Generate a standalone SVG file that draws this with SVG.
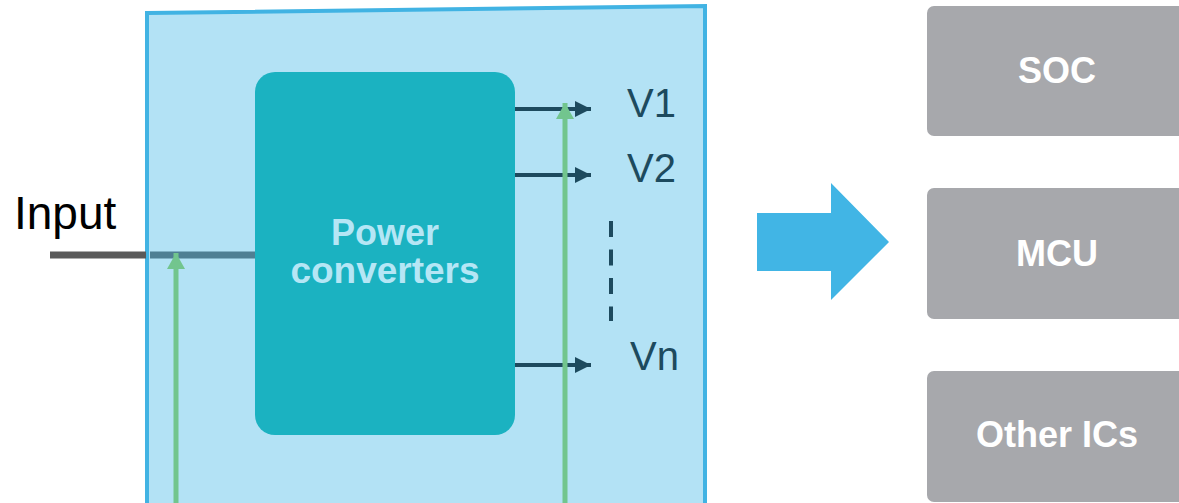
<svg xmlns="http://www.w3.org/2000/svg" width="1179" height="503" viewBox="0 0 1179 503">
<style>
.lbl{font-family:"Liberation Sans",Arial,sans-serif;fill:#1d4a5e;font-size:40px}
.chip{fill:#a7a8ac}
.chipt{font-family:"Liberation Sans",Arial,sans-serif;font-weight:bold;font-size:36px;fill:#ffffff;text-anchor:middle}
.out{stroke:#1d4a5e;stroke-width:4;fill:none}
.grn{stroke:#72c58e;stroke-width:5;fill:none}
</style>
<defs>
<marker id="ah" markerUnits="userSpaceOnUse" markerWidth="16" markerHeight="16" refX="16" refY="8" orient="auto"><path d="M0,0 L16,8 L0,16 Z" fill="#1d4a5e"/></marker>
<marker id="gh" markerUnits="userSpaceOnUse" markerWidth="16" markerHeight="18" refX="16" refY="9" orient="auto"><path d="M0,0 L16,9 L0,18 Z" fill="#72c58e"/></marker>
</defs>
<g id="panel">
<polygon points="147,13 705,6 705,510 147,510" fill="#b3e2f5" stroke="#41b3e3" stroke-width="4"/>
</g>
<g id="input">
<text x="14" y="229" font-family="'Liberation Sans',Arial,sans-serif" font-size="46" fill="#000">Input</text>
</g>
<g id="connectors">
<line x1="50" y1="255" x2="146" y2="255" stroke="#5a5a5a" stroke-width="7"/>
<line x1="150" y1="255" x2="256" y2="255" stroke="#4f7f93" stroke-width="7"/>
<line class="out" x1="515" y1="109" x2="591" y2="109" marker-end="url(#ah)"/>
<line class="out" x1="515" y1="175" x2="591" y2="175" marker-end="url(#ah)"/>
<line class="out" x1="515" y1="365" x2="591" y2="365" marker-end="url(#ah)"/>
<line class="out" x1="611" y1="221" x2="611" y2="321" stroke-dasharray="16,12.5"/>
<line class="grn" x1="176" y1="510" x2="176" y2="253" marker-end="url(#gh)"/>
<line class="grn" x1="565" y1="510" x2="565" y2="103" marker-end="url(#gh)"/>
</g>
<g id="power">
<rect x="255" y="72" width="260" height="363" rx="20" fill="#1bb2c1"/>
<text x="385" y="245" font-family="'Liberation Sans',Arial,sans-serif" font-weight="bold" font-size="36" fill="#b5e6f5" text-anchor="middle">Power</text>
<text x="385" y="283" font-family="'Liberation Sans',Arial,sans-serif" font-weight="bold" font-size="37" fill="#b5e6f5" text-anchor="middle">converters</text>
</g>
<g id="labels">
<text class="lbl" x="627" y="117">V1</text>
<text class="lbl" x="627" y="182">V2</text>
<text class="lbl" x="630" y="370">Vn</text>
</g>
<g id="bigarrow">
<polygon points="757,213 831,213 831,183 889,242 831,300 831,271 757,271" fill="#41b5e5"/>
</g>
<g id="soc">
<rect class="chip" x="927" y="6" width="270" height="130" rx="7"/>
<text class="chipt" x="1057" y="83">SOC</text>
</g>
<g id="mcu">
<rect class="chip" x="927" y="188" width="270" height="131" rx="7"/>
<text class="chipt" x="1057" y="266">MCU</text>
</g>
<g id="other">
<rect class="chip" x="927" y="371" width="270" height="131" rx="7"/>
<text class="chipt" x="1057" y="447">Other ICs</text>
</g>
</svg>
